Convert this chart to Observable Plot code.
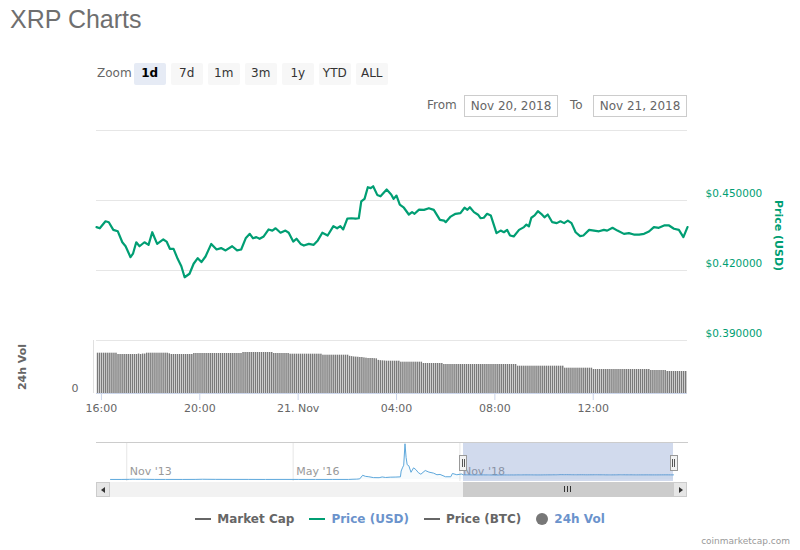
<!DOCTYPE html>
<html><head><meta charset="utf-8">
<script src="https://cdn.jsdelivr.net/npm/d3@7"></script>
<script src="https://cdn.jsdelivr.net/npm/@observablehq/plot@0.6"></script>
<style>
body{margin:0;background:#fff;font-family:"DejaVu Sans",sans-serif;}
#page{position:relative;width:800px;height:550px;overflow:hidden;background:#fff;}
.abs{position:absolute;}
#title{left:10px;top:5px;font-family:"Liberation Sans",Arial,sans-serif;font-size:25px;color:#6f6f6f;white-space:nowrap;}
.lbl{font-size:12px;color:#666;white-space:nowrap;line-height:14px;}
.btn{top:63px;width:31.5px;height:21.5px;background:#f7f7f7;font-size:12px;color:#333;text-align:center;line-height:21.5px;border-radius:2px;}
.btn.sel{background:#e6ebf5;font-weight:bold;color:#000;}
.box{top:95px;width:92px;height:20px;border:1px solid #ccc;font-size:12px;color:#666;text-align:center;line-height:20px;}
#legend{left:0;top:511px;width:800px;display:flex;justify-content:center;align-items:center;font-size:12px;font-weight:bold;line-height:16px;}
.item{display:flex;align-items:center;margin:0 7.5px;white-space:nowrap;}
.sym{display:inline-block;width:16px;height:2px;margin-right:6px;}
.dot{display:inline-block;width:12px;height:12px;border-radius:6px;margin-right:6px;background:#777;}
#credit{right:10px;top:536px;font-size:9px;color:#999;}
.handle{top:455px;width:6px;height:14px;border:1px solid #999;background:#f2f2f2;}
.handle i{position:absolute;top:3px;width:1px;height:8px;background:#555;}
</style></head><body>
<div id="page">
  <div id="title" class="abs">XRP Charts</div>
  <div class="abs lbl" style="left:97px;top:66px;">Zoom</div>
  <div id="buttons"></div>
  <div class="abs lbl" style="left:427px;top:98px;">From</div>
  <div class="abs box" style="left:464px;">Nov 20, 2018</div>
  <div class="abs lbl" style="left:570px;top:98px;">To</div>
  <div class="abs box" style="left:593px;">Nov 21, 2018</div>
  <div id="legend" class="abs"></div>
  <div id="credit" class="abs">coinmarketcap.com</div>
</div>
<script>
// ---------------- data ----------------
const priceTimes = [
"20T15:48","20T15:56","20T16:10","20T16:18","20T16:29","20T16:40","20T16:51","20T16:59","20T17:11","20T17:17",
"20T17:25","20T17:33","20T17:45","20T17:55","20T18:04","20T18:16","20T18:31","20T18:39","20T18:47","20T18:56",
"20T19:06","20T19:15","20T19:23","20T19:35","20T19:45","20T19:55","20T20:04","20T20:14","20T20:28","20T20:41",
"20T20:52","20T21:03","20T21:19","20T21:31","20T21:41","20T21:52","20T22:02","20T22:10","20T22:18","20T22:26",
"20T22:36","20T22:48","20T22:57","20T23:05","20T23:17","20T23:29","20T23:37","20T23:48","20T23:56","21T00:06",
"21T00:14","21T00:26","21T00:38","21T00:48","21T00:59","21T01:12","21T01:26","21T01:35","21T01:43","21T01:50",
"21T02:00","21T02:10","21T02:20","21T02:28","21T02:34","21T02:42","21T02:50","21T02:57","21T03:03","21T03:13",
"21T03:21","21T03:36","21T03:47","21T03:53","21T04:00","21T04:08","21T04:18","21T04:30","21T04:38","21T04:44",
"21T04:55","21T05:07","21T05:19","21T05:31","21T05:46","21T05:56","21T06:00","21T06:12","21T06:24","21T06:36",
"21T06:46","21T06:53","21T06:59","21T07:09","21T07:19","21T07:25","21T07:33","21T07:41","21T07:50","21T08:04",
"21T08:14","21T08:22","21T08:30","21T08:37","21T08:46","21T08:59","21T09:11","21T09:17","21T09:23","21T09:29",
"21T09:37","21T09:45","21T09:53","21T10:01","21T10:09","21T10:20","21T10:31","21T10:40","21T10:49","21T10:58",
"21T11:07","21T11:17","21T11:28","21T11:36","21T11:50","21T12:02","21T12:14","21T12:26","21T12:34","21T12:47",
"21T12:59","21T13:15","21T13:27","21T13:39","21T13:52","21T14:04","21T14:16","21T14:28","21T14:40","21T14:53",
"21T15:05","21T15:17","21T15:29","21T15:40","21T15:50"];
const priceValues = [
0.4386,0.4381,0.4411,0.4407,0.4374,0.4368,0.4321,0.4304,0.4257,0.4272,
0.4321,0.4304,0.4321,0.4310,0.4364,0.4314,0.4333,0.4324,0.4293,0.4293,
0.4250,0.4218,0.4171,0.4186,0.4229,0.4253,0.4236,0.4260,0.4314,0.4290,
0.4296,0.4286,0.4304,0.4286,0.4290,0.4338,0.4357,0.4338,0.4343,0.4336,
0.4346,0.4376,0.4371,0.4381,0.4362,0.4371,0.4362,0.4324,0.4336,0.4314,
0.4307,0.4314,0.4310,0.4329,0.4362,0.4350,0.4390,0.4381,0.4390,0.4376,
0.4422,0.4424,0.4422,0.4424,0.4496,0.4507,0.4557,0.4553,0.4561,0.4524,
0.4518,0.4547,0.4526,0.4507,0.4521,0.4482,0.4469,0.4440,0.4450,0.4443,
0.4461,0.4460,0.4467,0.4460,0.4417,0.4414,0.4407,0.4431,0.4443,0.4446,
0.4469,0.4460,0.4471,0.4450,0.4439,0.4424,0.4426,0.4443,0.4436,0.4360,
0.4371,0.4364,0.4374,0.4350,0.4346,0.4374,0.4386,0.4397,0.4389,0.4426,
0.4436,0.4454,0.4443,0.4428,0.4440,0.4407,0.4403,0.4411,0.4403,0.4414,
0.4403,0.4364,0.4347,0.4350,0.4374,0.4371,0.4368,0.4374,0.4371,0.4383,
0.4371,0.4357,0.4360,0.4354,0.4354,0.4357,0.4367,0.4386,0.4383,0.4393,
0.4393,0.4379,0.4374,0.4343,0.4386];
const priceTicks = [0.39, 0.42, 0.45];
const priceGrid = [0.39, 0.42, 0.45, 0.48];
const priceDomain = [0.39, 0.48];

// 24h volume (million USD), one bar every 5 minutes from 20 Nov 15:50 (rows = one hour)
const volumeStart = "20T15:50";
const volumeStepMinutes = 5;
const volumeValues = [
1290,1290,1290,1290,1290,1290,1290,1290,1290,1290,1248,1248,
1248,1248,1248,1248,1248,1248,1248,1248,1262,1248,1262,1262,
1290,1290,1290,1290,1290,1290,1290,1290,1290,1290,1290,1270,
1248,1248,1248,1248,1248,1248,1248,1248,1248,1248,1248,1280,
1280,1280,1280,1280,1280,1280,1280,1280,1280,1280,1280,1280,
1280,1280,1280,1280,1280,1280,1280,1280,1280,1280,1280,1312,
1312,1312,1312,1312,1312,1312,1312,1312,1312,1312,1312,1312,
1312,1312,1280,1280,1280,1280,1280,1280,1280,1280,1258,1258,
1258,1258,1258,1258,1258,1258,1258,1258,1258,1258,1258,1258,
1258,1258,1226,1226,1226,1226,1226,1226,1226,1226,1226,1226,
1226,1226,1226,1190,1180,1170,1165,1160,1152,1152,1140,1130,
1120,1120,1120,1115,1110,1060,1050,1045,1040,1034,1034,1034,
1034,1034,1034,1034,1002,1002,1002,1002,1002,1002,1002,1002,
1002,1002,1002,960,960,960,960,960,960,960,960,960,
960,928,928,928,928,928,928,928,928,928,928,928,
928,928,928,928,928,928,928,928,928,928,928,928,
928,928,928,928,928,928,928,928,928,928,928,928,
928,874,874,874,874,874,874,874,874,874,874,874,
874,874,874,874,874,874,874,874,874,874,874,874,
810,810,810,810,810,810,810,810,810,810,810,810,
810,810,768,768,768,768,768,768,768,768,768,768,
768,768,768,768,768,768,768,768,768,768,768,768,
768,768,768,768,768,768,736,736,736,736,736,736,
736,736,704,704,704,704,704,704,704,704,704,704];
const volumeMax = 1696;
const volumeTicks = [0];

const xStart = "20T15:48", xEnd = "21T15:50";
const xTickTimes = ["20T16:00","20T20:00","21T00:00","21T04:00","21T08:00","21T12:00"];
const xTickLabels = ["16:00","20:00","21. Nov","04:00","08:00","12:00"];

// navigator: full price history (USD)
const historyDates = [
"2013-08-04","2013-10-01","2013-11-15","2013-12-05","2013-12-20","2014-01-15","2014-02-15","2014-04-01","2014-06-01","2014-09-01",
"2014-11-15","2014-12-20","2015-01-15","2015-03-01","2015-06-01","2015-09-01","2015-12-01","2016-03-01","2016-06-01","2016-09-01",
"2016-12-01","2017-03-01","2017-03-25","2017-04-15","2017-05-01","2017-05-17","2017-06-01","2017-06-20","2017-07-15","2017-08-15",
"2017-09-01","2017-09-20","2017-10-15","2017-11-15","2017-12-10","2017-12-14","2017-12-21","2017-12-28","2018-01-04","2018-01-10",
"2018-01-16","2018-01-25","2018-02-06","2018-02-20","2018-03-05","2018-03-18","2018-04-01","2018-04-25","2018-05-15","2018-06-10",
"2018-06-28","2018-07-15","2018-08-14","2018-09-12","2018-09-21","2018-10-15","2018-11-10","2018-11-20"];
const historyValues = [
0.0059,0.0055,0.012,0.030,0.020,0.025,0.018,0.008,0.006,0.005,
0.010,0.023,0.018,0.012,0.010,0.0075,0.0055,0.0075,0.006,0.0065,
0.007,0.007,0.025,0.035,0.06,0.40,0.30,0.26,0.18,0.17,
0.24,0.19,0.22,0.23,0.25,0.80,1.10,1.35,3.38,2.10,
1.40,1.30,0.68,1.10,0.93,0.65,0.50,0.85,0.70,0.60,
0.45,0.48,0.26,0.26,0.57,0.45,0.52,0.44];
const navTickTimes = ["2013-11-01","2016-05-01","2018-11-01"];
const navTickLabels = ["Nov '13","May '16","Nov '18"];

const zoomButtons = ["1d","7d","1m","3m","1y","YTD","ALL"];
const legendItems = [
  {name:"Market Cap", kind:"line", color:"#666", text:"#666"},
  {name:"Price (USD)", kind:"line", color:"#009e73", text:"#6b93cc"},
  {name:"Price (BTC)", kind:"line", color:"#666", text:"#666"},
  {name:"24h Vol", kind:"dot", color:"#777", text:"#6b93cc"}
];

// ---------------- build ----------------
const green = "#009e73";
const page = document.getElementById("page");
const T = s => new Date("2018-11-" + s + ":00Z");
const priceData = priceTimes.map((t, i) => ({time: T(t), price: priceValues[i]}));
const v0 = T(volumeStart).getTime();
const volData = volumeValues.map((v, i) => ({time: new Date(v0 + i * volumeStepMinutes * 60000), vol: v}));
const xDomain = [T(xStart), T(xEnd)];
const tickDates = xTickTimes.map(T);
const tickLabelOf = new Map(tickDates.map((d, i) => [d.getTime(), xTickLabels[i]]));
const font = {fontFamily: "DejaVu Sans, sans-serif", background: "transparent", overflow: "visible"};

function place(svg, top) {
  svg.style.position = "absolute";
  svg.style.left = "0px";
  svg.style.top = top + "px";
  page.appendChild(svg);
}

// price pane (y: 130 .. 340)
place(Plot.plot({
  width: 800, height: 225, marginTop: 10, marginBottom: 5, marginLeft: 96, marginRight: 113,
  style: font,
  x: {type: "utc", domain: xDomain, axis: null, label: null},
  y: {domain: priceDomain, axis: null, label: null},
  marks: [
    Plot.gridY(priceGrid, {stroke: "#e6e6e6", strokeOpacity: 1}),
    Plot.axisY(priceTicks, {anchor: "right", tickSize: 0, tickPadding: 18, dy: -7, textAnchor: "start",
      fill: green, fontSize: 10.5, label: null, tickFormat: d => "$" + d.toFixed(6)}),
    Plot.lineY(priceData, {x: "time", y: "price", stroke: green, strokeWidth: 2.2, strokeLinejoin: "round"}),
    Plot.text(["Price (USD)"], {text: d => d, frameAnchor: "right", dx: 91, rotate: 90, textAnchor: "middle",
      fill: green, fontSize: 11, fontWeight: "bold"})
  ]
}), 120);

// volume pane (y: 340 .. 393)
place(Plot.plot({
  width: 800, height: 90, marginTop: 5, marginBottom: 32, marginLeft: 96, marginRight: 113,
  style: font,
  x: {type: "utc", domain: xDomain, label: null},
  y: {domain: [0, volumeMax], axis: null, label: null},
  marks: [
    Plot.rectY(volData, {x: "time", y: "vol", interval: d3.utcMinute.every(volumeStepMinutes), fill: "#7a7a7a", insetRight: 0.6}),
    Plot.ruleY([0], {stroke: "#ccd6eb"}),
    Plot.ruleX([xDomain[0]], {dx: -3, stroke: "#e0e0e0"}),
    Plot.axisX(tickDates, {tickSize: 7, tickPadding: 4, stroke: "#ccd6eb", fill: "#666", fontSize: 11,
      label: null, tickFormat: d => tickLabelOf.get(d.getTime())}),
    Plot.axisY(volumeTicks, {anchor: "left", tickSize: 0, tickPadding: 18, dy: -5, fill: "#666", fontSize: 11, label: null}),
    Plot.text(["24h Vol"], {text: d => d, frameAnchor: "left", dx: -74, rotate: -90, textAnchor: "middle",
      fill: "#666", fontSize: 11, fontWeight: "bold"})
  ]
}), 335);

// navigator (y: 442 .. 481)
const histData = historyDates.map((d, i) => ({time: new Date(d + "T00:00Z"), price: historyValues[i]}));
const navData = histData.concat(priceData);
const navTicks = navTickTimes.map(d => new Date(d + "T00:00Z"));
const navColor = "#5ea8dc";
place(Plot.plot({
  width: 800, height: 50, marginTop: 6, marginBottom: 5, marginLeft: 96, marginRight: 113,
  style: font,
  x: {type: "utc", domain: [histData[0].time, xDomain[0], xDomain[1]], range: [110, 463, 673], axis: null, label: null},
  y: {domain: [0, 3.5], range: [43, 6], axis: null, label: null},
  marks: [
    Plot.gridX(navTicks, {stroke: "#e6e6e6", strokeOpacity: 1}),
    Plot.text(navTicks, {x: d => d, text: (d, i) => navTickLabels[i], frameAnchor: "bottom", dy: -7, dx: 3,
      textAnchor: "start", fill: "#999", fontSize: 11}),
    Plot.areaY(navData, {x: "time", y: "price", fill: navColor, fillOpacity: 0.05}),
    Plot.lineY(navData, {x: "time", y: "price", stroke: navColor, strokeWidth: 1}),
    Plot.rect([0], {x1: xDomain[0], x2: xDomain[1], fill: "rgb(102,133,194)", fillOpacity: 0.3}),
    Plot.frame({anchor: "top", stroke: "#cccccc"})
  ]
}), 436);

// navigator handles & scrollbar (UI chrome)
function div(cls, css, html) {
  const d = document.createElement("div");
  d.className = "abs " + (cls || "");
  d.style.cssText = css;
  if (html) d.innerHTML = html;
  page.appendChild(d);
  return d;
}
div("handle", "left:459px;", "<i style='left:1.5px'></i><i style='left:3.5px'></i>");
div("handle", "left:669.5px;", "<i style='left:1.5px'></i><i style='left:3.5px'></i>");
div("", "left:96px;top:482px;width:591px;height:15px;background:#f2f2f2;");
div("", "left:96px;top:482px;background:#e6e6e6;border:1px solid #ccc;box-sizing:border-box;width:14px;height:15px;",
  "<div style='position:absolute;left:4px;top:4px;width:0;height:0;border-top:3px solid transparent;border-bottom:3px solid transparent;border-right:4px solid #333;'></div>");
div("", "left:463px;top:482px;width:210px;height:15px;background:#cccccc;",
  "<div style='position:absolute;left:101px;top:4px;width:1px;height:6px;background:#333'></div><div style='position:absolute;left:104px;top:4px;width:1px;height:6px;background:#333'></div><div style='position:absolute;left:107px;top:4px;width:1px;height:6px;background:#333'></div>");
div("", "left:673px;top:482px;width:14px;height:15px;background:#e6e6e6;border:1px solid #ccc;box-sizing:border-box;",
  "<div style='position:absolute;left:5px;top:4px;width:0;height:0;border-top:3px solid transparent;border-bottom:3px solid transparent;border-left:4px solid #333;'></div>");

// zoom buttons
zoomButtons.forEach((b, i) => {
  div("btn" + (i === 0 ? " sel" : ""), "left:" + (134 + 37 * i) + "px;", b);
});

// legend
const leg = document.getElementById("legend");
legendItems.forEach(it => {
  const s = document.createElement("div");
  s.className = "item";
  s.innerHTML = (it.kind === "line"
      ? "<span class='sym' style='background:" + it.color + "'></span>"
      : "<span class='dot' style='background:" + it.color + "'></span>")
    + "<span style='color:" + it.text + "'>" + it.name + "</span>";
  leg.appendChild(s);
});
</script>
</body></html>
